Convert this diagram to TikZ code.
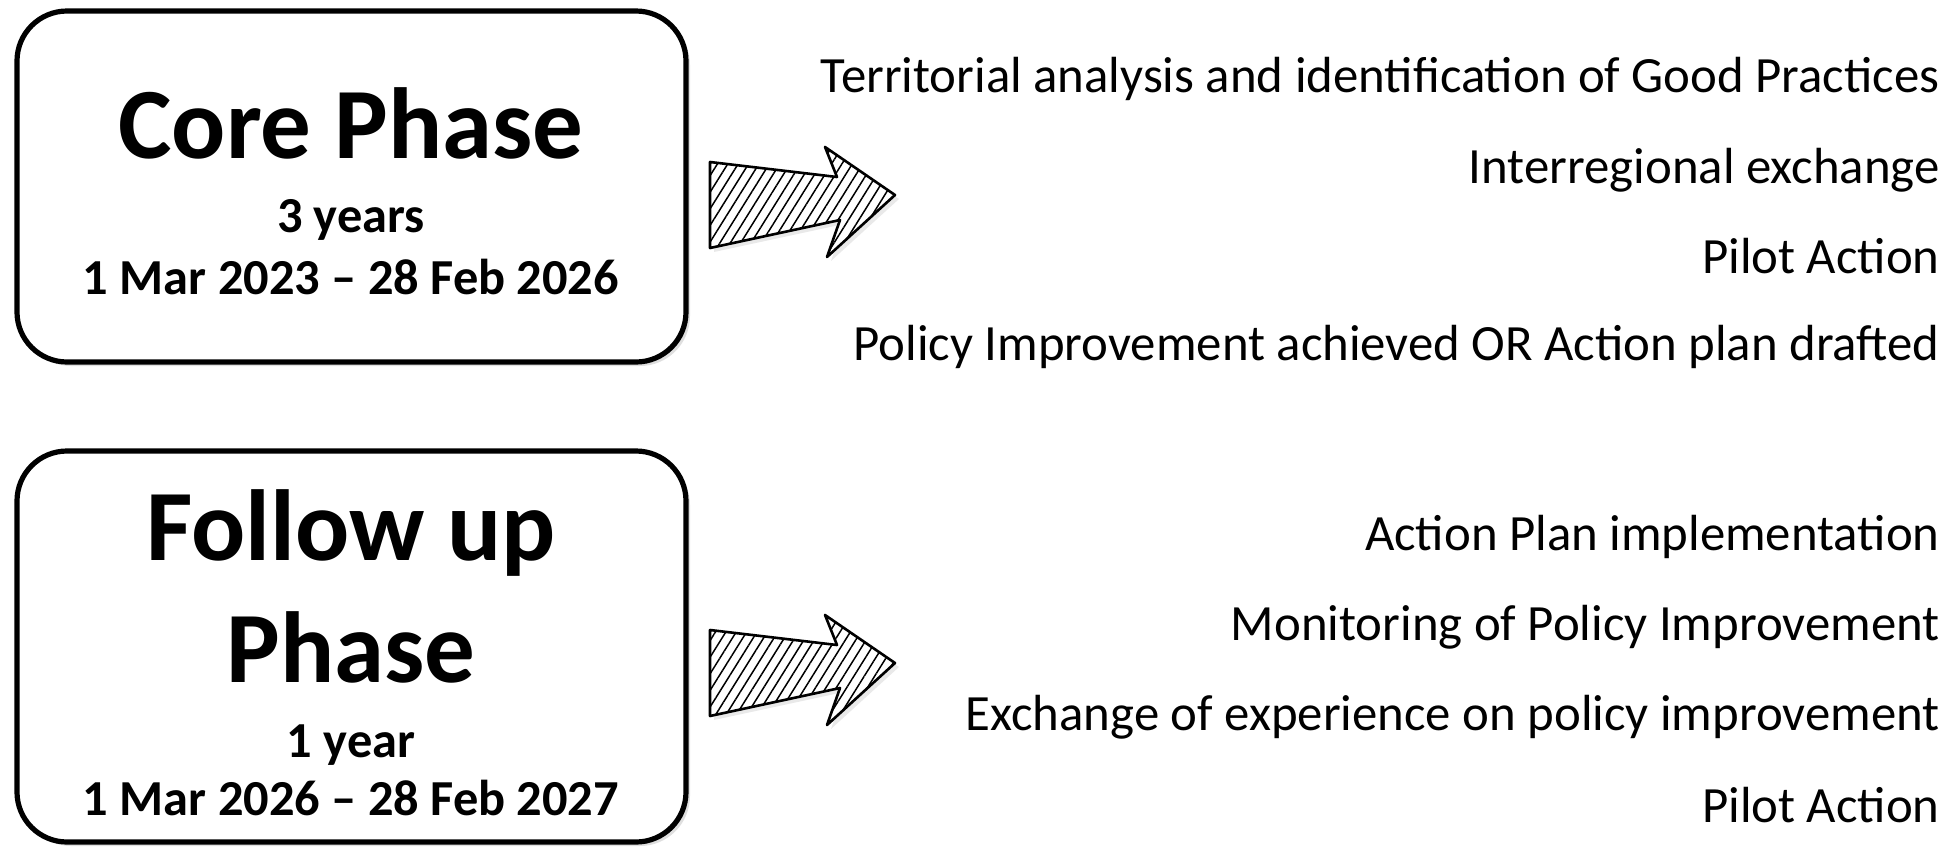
\documentclass[tikz,border=0pt]{standalone}
\usepackage{fontspec}
\setmainfont{Carlito}
\usepackage{tikz}
\usetikzlibrary{positioning, shadows, patterns.meta}

\tikzset{
    phasebox/.style = {draw, line width=2.6pt, rounded corners=25pt, fill=white,
        drop shadow={opacity=0.25, shadow xshift=2pt, shadow yshift=-2pt}},
    phasetitle/.style = {anchor=base, inner sep=0pt, font=\bfseries\fontsize{50.5}{60}\selectfont},
    phasedate/.style = {anchor=base, inner sep=0pt, font=\bfseries\fontsize{25.2}{30}\selectfont},
    task/.style = {anchor=base east, inner sep=0pt, font=\fontsize{25.4}{30}\selectfont},
    hatcharrow/.pic = {
        \path [fill=black!25, opacity=0.35] (4,4) -- (131,19) -- (119,-11) -- (189,37)
            -- (121,99) -- (134,62) -- (4,90) -- cycle;
        \fill [white] (0,0) -- (127,15) -- (115,-15) -- (185,33) -- (117,95) -- (130,58) -- (0,86) -- cycle;
        \draw [line width=1.3pt, line join=round,
            pattern={Lines[angle=58, distance=4.4pt, line width=0.75pt]}]
            (0,0) -- (127,15) -- (115,-15) -- (185,33) -- (117,95) -- (130,58) -- (0,86) -- cycle;
    }
}

\begin{document}
\begin{tikzpicture}[x=0.5pt, y=-0.5pt]
    \useasboundingbox (0,0) rectangle (1951,847);

    % core phase
    \node [phasebox, minimum width=334.5pt, minimum height=175.5pt] (core) at (351.5,186.5) {};
    \node [phasetitle] (coretitle) at (351,158) {Core Phase};
    \node [phasedate] (coreyears) at (351,232) {3 years};
    \node [phasedate] (coredates) at (351,294) {1 Mar 2023 -- 28 Feb 2026};

    % follow up phase
    \node [phasebox, minimum width=334.5pt, minimum height=195.5pt] (follow) at (351.5,646.5) {};
    \node [phasetitle] (followtitle) at (351,560) {Follow up};
    \node [phasetitle] (followphase) at (351,682) {Phase};
    \node [phasedate] (followyears) at (351,757) {1 year};
    \node [phasedate] (followdates) at (351,815) {1 Mar 2026 -- 28 Feb 2027};

    \pic at (710,162) {hatcharrow};
    \pic at (710,630) {hatcharrow};

    \node [task] (territorial) at (1940,92) {Territorial analysis and identification of Good Practices};
    \node [task] (interregional) at (1940,183) {Interregional exchange};
    \node [task] (pilotcore) at (1940,273) {Pilot Action};
    \node [task] (improvement) at (1940,360) {Policy Improvement achieved OR Action plan drafted};

    \node [task] (implementation) at (1940,550) {Action Plan implementation};
    \node [task] (monitoring) at (1940,640) {Monitoring of Policy Improvement};
    \node [task] (exchange) at (1940,730) {Exchange of experience on policy improvement};
    \node [task] (pilotfollow) at (1940,822) {Pilot Action};
\end{tikzpicture}
\end{document}
